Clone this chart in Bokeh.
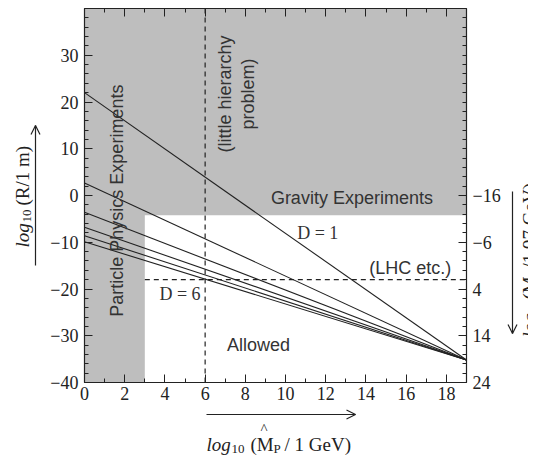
import math
from bokeh.plotting import figure
from bokeh.models import Range1d, LinearAxis, FixedTicker
from bokeh.core.properties import value
from bokeh.embed import file_html
from bokeh.resources import INLINE

# ---------------- data ----------------
dims = [1, 2, 3, 4, 5, 6]
mp_axis = [0, 19]                                # log10(M_P / 1 GeV) endpoints of each line
r_at_zero = [22.0, 2.7, -3.6, -6.8, -8.6, -9.9]  # log10(R/1 m) at x = 0
r_at_end = [-35.2, -35.2, -35.2, -35.2, -35.2, -35.2]

gravity_limit = -4.2      # gravity experiments exclude log10 R above this
particle_limit = 3.0      # particle physics experiments exclude x below this
hierarchy_x = 6.0         # little hierarchy problem line
lhc_y = -18.0             # LHC line

x_ticks = list(range(0, 19, 2))
x_minor = list(range(0, 20))
y_ticks = [-40, -30, -20, -10, 0, 10, 20, 30]
y_minor = list(range(-40, 41, 2))
m_ticks = [-16, -6, 4, 14, 24]
m_minor = list(range(-56, 25, 2))
M_SHIFT = -16             # right scale: m = M_SHIFT - log10 R

X0, X1, Y0, Y1 = 0, 19, -40, 40

# ---------------- layout (canvas px) ----------------
W, H = 528, 458
FL, FR, FT, FB = 84, 466, 8, 382          # where the plotting box sits on the canvas
xs = (FR - FL) / (X1 - X0)
ys = (FB - FT) / (Y1 - Y0)
xr0, xr1 = X0 - FL / xs, X1 + (W - FR) / xs
yr0, yr1 = Y0 - (H - FB) / ys, Y1 + FT / ys


def X(px):
    return xr0 + px / xs


def Y(py):
    return yr1 - py / ys


p = figure(width=W, height=H, output_backend="svg", toolbar_location=None,
           x_range=Range1d(xr0, xr1), y_range=Range1d(yr0, yr1),
           min_border=0, x_axis_location=None, y_axis_location=None)
p.grid.visible = False
p.outline_line_color = None
p.background_fill_color = "white"
p.border_fill_color = "white"
p.extra_y_ranges = {"m": Range1d(start=M_SHIFT - yr0, end=M_SHIFT - yr1)}

INK = "#222222"
GRAY = "#bebebe"
SERIF = "Liberation Serif"
SANS = "Liberation Sans"


def minus(v):
    return str(v).replace("-", "\u2212")


def style_axis(ax, ticks, minor, labels=True):
    ax.ticker = FixedTicker(ticks=ticks, minor_ticks=minor)
    ax.axis_line_color = INK
    ax.axis_line_width = 1.2
    ax.major_tick_line_color = INK
    ax.minor_tick_line_color = INK
    ax.major_tick_in = 8
    ax.major_tick_out = 0
    ax.minor_tick_in = 4
    ax.minor_tick_out = 0
    ax.major_label_text_font = SERIF
    ax.major_label_text_font_size = "18px"
    ax.major_label_text_color = INK
    ax.major_label_standoff = 6
    if labels:
        ax.major_label_overrides = {t: minus(t) for t in ticks}
    else:
        ax.major_label_overrides = {t: "" for t in ticks}


left = LinearAxis(fixed_location=X0, bounds=(Y0, Y1))
style_axis(left, y_ticks, y_minor)
p.add_layout(left, "left")
bottom = LinearAxis(fixed_location=Y0, bounds=(X0, X1))
style_axis(bottom, x_ticks, x_minor)
bottom.major_label_standoff = 4
p.add_layout(bottom, "below")
top = LinearAxis(fixed_location=Y1, bounds=(X0, X1))
style_axis(top, x_ticks, x_minor, labels=False)
p.add_layout(top, "above")
right = LinearAxis(y_range_name="m", fixed_location=X1,
                   bounds=(M_SHIFT - Y1, M_SHIFT - Y0))
style_axis(right, m_ticks, m_minor)
p.add_layout(right, "right")

# excluded regions
p.quad(left=[X0], right=[X1], bottom=[gravity_limit], top=[Y1],
       fill_color=GRAY, line_color=None)
p.quad(left=[X0], right=[particle_limit], bottom=[Y0], top=[Y1],
       fill_color=GRAY, line_color=None)

# dashed lines
p.line([hierarchy_x, hierarchy_x], [Y0, Y1], line_color=INK, line_width=1.2, line_dash="5 4")
p.line([particle_limit, X1], [lhc_y, lhc_y], line_color=INK, line_width=1.2, line_dash="5 4")

# D lines
for d, a, b in zip(dims, r_at_zero, r_at_end):
    p.line(mp_axis, [a, b], line_color=INK, line_width=1.1)


# in-plot texts
def txt(x, y, s, font=SANS, angle=0.0, size="18px"):
    p.text(x=[x], y=[y], text=[s], text_font=value(font), text_font_size=size,
           text_color="#333333", text_align="center", text_baseline="middle",
           angle=angle, text_line_height=1.15)


txt(1.63, -1.1, "Particle Physics Experiments", angle=math.pi / 2)
txt(7.57, 21.7, "(little hierarchy\nproblem)", angle=math.pi / 2)
txt(13.3, -0.6, "Gravity Experiments")
txt(16.2, -15.6, "(LHC etc.)")
txt(8.66, -31.9, "Allowed")
txt(11.6, -8.0, "D = 1", font=SERIF)
txt(4.75, -21.0, "D = 6", font=SERIF)


# ---------------- axis titles (outside the box) ----------------
def lab(px, py, s, size, italic=False, angle=0.0, baseline="alphabetic"):
    p.text(x=[X(px)], y=[Y(py)], text=[s], text_font=value(SERIF), text_font_size=size,
           text_font_style="italic" if italic else "normal", text_color=INK,
           angle=angle, text_align="left", text_baseline=baseline)


# bottom: log10 (M^_P / 1 GeV)
lab(206, 444, "log", "19px", italic=True)
lab(231, 448, "10", "13px")
lab(250, 444, "(M", "19px")
lab(260, 428, "^", "15px")
lab(273, 448, "P", "13px")
lab(284, 444, "/ 1 GeV)", "19px")

# left: log10 (R/1 m), reading upward
up = math.pi / 2
lab(22, 247, "log", "19px", italic=True, angle=up)
lab(26, 222, "10", "13px", angle=up)
lab(22, 205, "(R/1 m)", "19px", angle=up)

# right: log10 (M*/1.97 GeV), reading upward, running off the page edge
lab(529, 337, "log", "19px", italic=True, angle=up, baseline="middle")
lab(533, 313, "10", "13px", angle=up, baseline="middle")
lab(529, 299, "(M", "19px", angle=up, baseline="middle")
lab(533, 276, "*", "13px", angle=up, baseline="middle")
lab(529, 268, "/1.97 GeV)", "19px", angle=up, baseline="middle")


# arrows (shaft + open head)
def arrow(x0, y0, x1, y1, L=9, Wd=4.5):
    p.line([X(x0), X(x1)], [Y(y0), Y(y1)], line_color=INK, line_width=1.2)
    dxp, dyp = x1 - x0, y1 - y0
    n = math.hypot(dxp, dyp)
    ux, uy = dxp / n, dyp / n
    bx, by = x1 - ux * L, y1 - uy * L
    hx = [bx - uy * Wd, x1, bx + uy * Wd]
    hy = [by + ux * Wd, y1, by - ux * Wd]
    p.line([X(v) for v in hx], [Y(v) for v in hy], line_color=INK, line_width=1.2)


arrow(35, 265, 35, 125)
arrow(512, 191, 512, 333)
arrow(206, 414, 355, 414)

open("out.html", "w").write(file_html(p, INLINE))
